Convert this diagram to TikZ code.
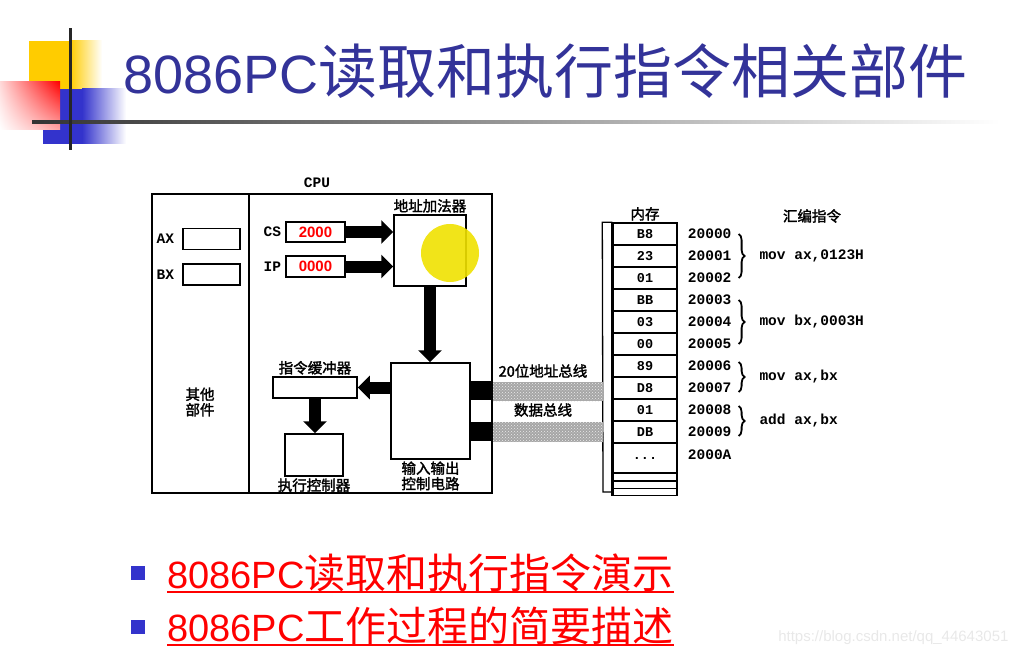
\documentclass[tikz,border=0pt]{standalone}
\usepackage{fontspec}
\setmainfont{Liberation Serif}
\newfontfamily\cjk{Noto Sans CJK SC}
\newfontfamily\cjkb[FakeBold=2]{Noto Sans CJK SC}
\newfontfamily\arialfont{Liberation Sans}
\newfontfamily\codefont{Liberation Mono}
\usetikzlibrary{arrows.meta,positioning,decorations.pathreplacing,patterns,shadings}

\definecolor{titleblue}{RGB}{51,51,153}
\definecolor{bulletblue}{RGB}{51,51,204}
\definecolor{logoyellow}{RGB}{255,204,0}
\definecolor{logoblue}{RGB}{51,51,204}
\definecolor{hiyellow}{RGB}{240,226,0}

\tikzset{
  part/.style={draw,line width=1.5pt,fill=white,inner sep=0pt},
  lbl/.style={font=\cjkb\fontsize{14.5}{15.5}\selectfont,inner sep=0.5pt,align=center},
  codetxt/.style={font=\codefont\bfseries\fontsize{14.5}{16}\selectfont,inner sep=1pt},
  regval/.style={font=\arialfont\bfseries\fontsize{15}{16}\selectfont,text=red},
  fat arrow/.style={line width=12pt,-{Triangle[length=12pt,width=23pt]}},
  cell/.style={draw,line width=1.4pt,minimum width=64pt,minimum height=22pt,inner sep=0pt,
    font=\codefont\bfseries\fontsize{13.5}{14}\selectfont},
  bus/.style={fill=gray!70,postaction={pattern=crosshatch dots,pattern color=white!85!gray}},
  mem brace/.style={decorate,decoration={brace,amplitude=6pt},line width=1.8pt},
}

\begin{document}
\begin{tikzpicture}[x=1pt,y=-1pt]
\useasboundingbox (0,0) rectangle (1021,658);
% logo
\fill[logoyellow] (29,41) rectangle (70,89);
\shade[left color=logoyellow,right color=white] (70,41) rectangle (102,89);
\fill[logoblue] (43,89) rectangle (82,144);
\shade[left color=logoblue,right color=white] (82,89) rectangle (126,144);
\shade[upper left=red!15,upper right=red,lower left=white,lower right=red!35] (0,82) rectangle (60,130);
\shade[left color=black!80,middle color=black!33,right color=white] (32,120.7) rectangle (1000,123.3);
\fill[black!85] (68.5,28) rectangle (71.5,150);
\node[anchor=base west,inner sep=0pt,text=titleblue] (title) at (123,94)
  {\arialfont\fontsize{54}{60}\selectfont 8086PC\cjk\fontsize{59}{60}\selectfont 读取和执行指令相关部件};

% CPU
\node[part,minimum width=340pt,minimum height=299pt] (cpu) at (322,343.5) {};
\node[codetxt] (cpu label) at (317,183) {CPU};
\draw[line width=1.5pt] (249,194) -- (249,493);
\node[lbl] (others) at (200,402) {其他\\部件};
\node[part,minimum width=57pt,minimum height=21pt] (ax) at (211.5,239) {};
\node[part,minimum width=57pt,minimum height=21pt] (bx) at (211.5,274.5) {};
\node[codetxt,left=7pt of ax] (ax label) {AX};
\node[codetxt,left=7pt of bx] (bx label) {BX};
\node[part,regval,minimum width=59pt,minimum height=20pt] (cs) at (315.5,232) {2000};
\node[part,regval,minimum width=59pt,minimum height=21pt] (ip) at (315.5,266.5) {0000};
\node[codetxt,left=3pt of cs] (cs label) {CS};
\node[codetxt,left=3pt of ip] (ip label) {IP};
\node[part,minimum width=72pt,minimum height=71pt] (adder) at (430,250.5) {};
\node[lbl,above=1pt of adder] (adder label) {地址加法器};
\fill[hiyellow,opacity=.9] (450,253) circle[radius=29];
\draw[fat arrow] (cs.east) -- (cs.east -| adder.west);
\draw[fat arrow] (ip.east) -- (ip.east -| adder.west);
\node[part,minimum width=79pt,minimum height=96pt] (io) at (430.5,411) {};
\node[lbl,below=1pt of io] (io label) {输入输出\\控制电路};
\draw[fat arrow] (adder.south) -- (adder.south |- io.north);
\node[part,minimum width=84pt,minimum height=21pt] (buffer) at (315,387.5) {};
\node[lbl,above=1pt of buffer] (buffer label) {指令缓冲器};
\draw[fat arrow] (buffer.east -| io.west) -- (buffer.east);
\node[part,minimum width=58pt,minimum height=42pt] (exec) at (314,455) {};
\node[lbl,below=1pt of exec] (exec label) {执行控制器};
\draw[fat arrow] (buffer.south) -- (buffer.south |- exec.north);

% memory
\foreach \v [count=\i] in {B8,23,01,BB,03,00,89,D8,01,DB}
  \node[cell] (m\i) at (645,212+22*\i) {\v};
\node[cell,minimum height=30pt] (m11) at (645,458) {...};
\foreach \j in {1,2,3}
  \node[cell,minimum height=7.33pt,anchor=north] (s\j) at (645,465.67+7.33*\j) {};
\draw[line width=1.3pt] (m1.north west) -- ++(-10,0) -- (603,492) -- (613,492);
\draw[line width=3pt] (m1.north west) -- (s3.south west);
\node[lbl,above=1pt of m1] (mem label) {内存};

% buses
\fill (io.east |- 0,381) rectangle (cpu.east |- 0,400);
\fill (io.east |- 0,422) rectangle (cpu.east |- 0,441);
\path[bus] (cpu.east |- 0,382) rectangle (603,401);
\path[bus] (cpu.east |- 0,422) rectangle (603,442);
\node[lbl] (abus label) at (543,371) {20位地址总线};
\node[lbl] (dbus label) at (543,410) {数据总线};

% addresses and instructions
\foreach \a [count=\i] in {20000,20001,20002,20003,20004,20005,20006,20007,20008,20009}
  \node[codetxt,anchor=west] (a\i) at ([xshift=9pt]m\i.east) {\a};
\node[codetxt,anchor=west] (a11) at ([xshift=9pt,yshift=3pt]m11.east) {2000A};
\node[lbl] (asm label) at (812,216) {汇编指令};
\draw[mem brace] ([xshift=6pt]a1.east) -- node[codetxt,right=19pt] (i1) {mov ax,0123H} ([xshift=6pt]a3.east);
\draw[mem brace] ([xshift=6pt]a4.east) -- node[codetxt,right=19pt] (i2) {mov bx,0003H} ([xshift=6pt]a6.east);
\draw[mem brace] ([xshift=6pt,yshift=4pt]a7.east) -- node[codetxt,right=19pt] (i3) {mov ax,bx} ([xshift=6pt,yshift=-4pt]a8.east);
\draw[mem brace] ([xshift=6pt,yshift=4pt]a9.east) -- node[codetxt,right=19pt] (i4) {add ax,bx} ([xshift=6pt,yshift=-4pt]a10.east);

% bullets
\fill[bulletblue] (131,566) rectangle (145,580);
\fill[bulletblue] (131,620) rectangle (145,634);
\node[anchor=base west,inner sep=0pt,text=red] (demo) at (167,588)
  {\arialfont\fontsize{38}{40}\selectfont 8086PC\cjk\fontsize{41}{42}\selectfont 读取和执行指令演示};
\node[anchor=base west,inner sep=0pt,text=red] (brief) at (167,641)
  {\arialfont\fontsize{38}{40}\selectfont 8086PC\cjk\fontsize{41}{42}\selectfont 工作过程的简要描述};
\draw[red,line width=2pt] ([yshift=-4pt]demo.base west) -- ([yshift=-4pt]demo.base east);
\draw[red,line width=2pt] ([yshift=-4pt]brief.base west) -- ([yshift=-4pt]brief.base east);
\node[anchor=east,text=gray!18,font=\arialfont\fontsize{15}{16}\selectfont] (mark) at (1012,638) {https://blog.csdn.net/qq\_44643051};
\end{tikzpicture}
\end{document}
